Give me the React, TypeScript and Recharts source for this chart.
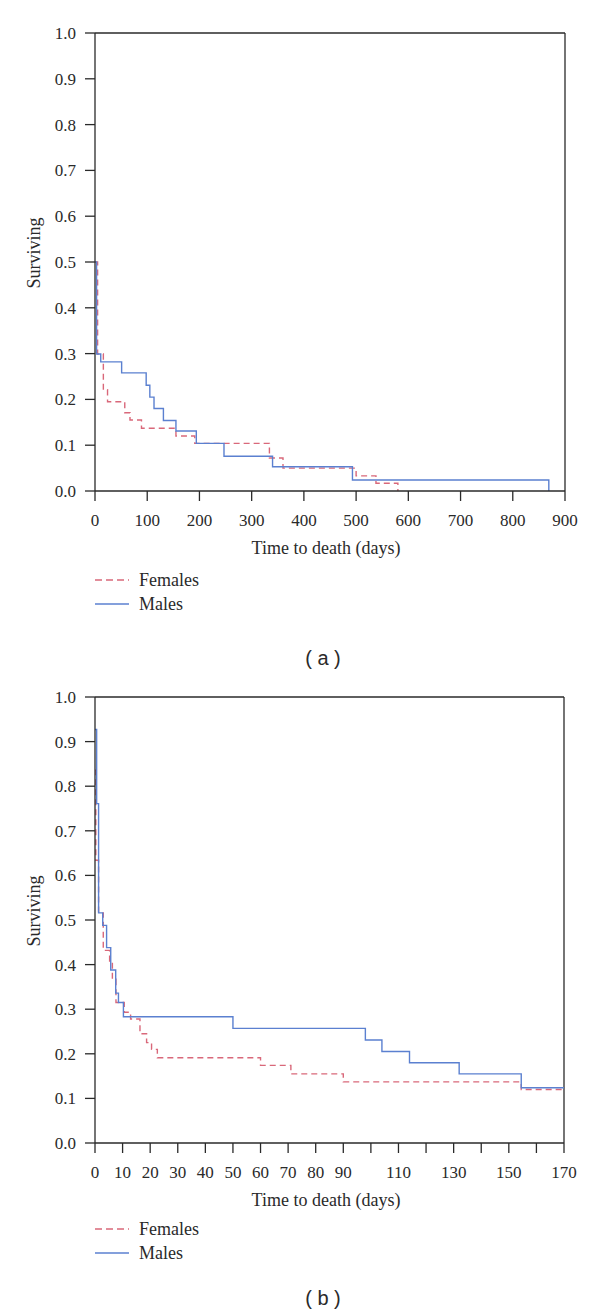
import React from "react";
import { LineChart, Line, XAxis, YAxis, ReferenceLine } from "recharts";

// (a) whole follow-up, days
const aTicks = [0, 100, 200, 300, 400, 500, 600, 700, 800, 900];
const aFemaleDays = [0, 5, 16, 24, 57, 67, 89, 155, 191, 334, 360, 500, 538, 580];
const aFemaleSurv = [0.5, 0.299, 0.221, 0.195, 0.171, 0.155, 0.137, 0.12, 0.104, 0.072, 0.05, 0.033, 0.017, 0];
const aMaleDays = [0, 3, 11, 51, 98, 105, 113, 131, 155, 194, 247, 340, 493, 869];
const aMaleSurv = [0.5, 0.299, 0.282, 0.258, 0.231, 0.205, 0.18, 0.154, 0.131, 0.104, 0.076, 0.053, 0.024, 0];

// (b) first 170 days
const bTicks = [0, 10, 20, 30, 40, 50, 60, 70, 80, 90, 100, 110, 120, 130, 140, 150, 160, 170];
const bHiddenLabels = [100, 120, 140, 160];
const bFemaleDays = [0, 0.3, 1.3, 3, 5.3, 6.3, 7.6, 10.6, 12.9, 16.3, 18.7, 20.5, 22.6, 60, 71, 90, 154.5, 170];
const bFemaleSurv = [0.836, 0.634, 0.516, 0.432, 0.408, 0.367, 0.315, 0.293, 0.278, 0.245, 0.225, 0.21, 0.191, 0.174, 0.155, 0.137, 0.12, 0.12];
const bMaleDays = [0, 0.6, 1.3, 2.8, 4.2, 5.7, 7.5, 8.5, 10.3, 50, 98, 104, 114, 132, 154.5, 170];
const bMaleSurv = [0.927, 0.761, 0.516, 0.488, 0.438, 0.388, 0.336, 0.315, 0.283, 0.257, 0.231, 0.205, 0.18, 0.155, 0.124, 0.124];

const yTicks = [0, 0.1, 0.2, 0.3, 0.4, 0.5, 0.6, 0.7, 0.8, 0.9, 1.0];

const FEMALE = "#d9687a";
const MALE = "#5b80d0";
const INK = "#2a2a2a";
const SERIF = "'Liberation Serif', 'DejaVu Serif', serif";

const toRows = (days: number[], surv: number[]) => days.map((t, i) => ({ t, s: surv[i] }));

const tickStyle = { fontSize: 17, fill: INK, fontFamily: SERIF };

type PanelProps = {
  top: number;
  height: number;
  xMax: number;
  xTicks: number[];
  hidden: number[];
  rightMargin: number;
  females: { t: number; s: number }[];
  males: { t: number; s: number }[];
};

const Panel = ({ top, height, xMax, xTicks, hidden, rightMargin, females, males }: PanelProps) => (
  <div style={{ position: "absolute", left: 0, top, fontFamily: SERIF }}>
    <LineChart width={600} height={height} margin={{ top: 33, right: rightMargin, bottom: 0, left: 0 }}>
      <XAxis
        dataKey="t"
        type="number"
        domain={[0, xMax]}
        ticks={xTicks}
        interval={0}
        height={50}
        tickSize={10}
        tickMargin={13}
        stroke={INK}
        strokeWidth={1.3}
        tick={tickStyle}
        tickFormatter={(v: number) => (hidden.includes(v) ? "" : String(v))}
        allowDataOverflow
      />
      <YAxis
        type="number"
        domain={[0, 1]}
        ticks={yTicks}
        interval={0}
        width={95}
        tickSize={10}
        tickMargin={9}
        stroke={INK}
        strokeWidth={1.3}
        tick={tickStyle}
        tickFormatter={(v: number) => v.toFixed(1)}
      />
      <ReferenceLine y={1} stroke={INK} strokeWidth={1.3} />
      <ReferenceLine x={xMax} stroke={INK} strokeWidth={1.3} />
      <Line data={females} dataKey="s" type="stepAfter" stroke={FEMALE} strokeWidth={1.4} strokeDasharray="6 4" dot={false} isAnimationActive={false} />
      <Line data={males} dataKey="s" type="stepAfter" stroke={MALE} strokeWidth={1.4} dot={false} isAnimationActive={false} />
    </LineChart>
  </div>
);

const Text = ({ x, y, children, size = 18, family = SERIF, rotate = 0 }: any) => (
  <div
    style={{
      position: "absolute",
      left: x,
      top: y,
      transform: `translate(-50%, -50%) rotate(${rotate}deg)`,
      fontFamily: family,
      fontSize: size,
      lineHeight: 1,
      whiteSpace: "pre",
      color: INK,
    }}
  >
    {children}
  </div>
);

const LegendRows = ({ y }: { y: number }) => (
  <>
    {[
      { name: "Females", color: FEMALE, dash: "7 4", dy: 0 },
      { name: "Males", color: MALE, dash: undefined, dy: 24 },
    ].map((r) => (
      <div key={r.name} style={{ position: "absolute", left: 95, top: y + r.dy - 10, height: 20, display: "flex", alignItems: "center" }}>
        <svg width={34} height={20}>
          <line x1={0} x2={34} y1={10} y2={10} stroke={r.color} strokeWidth={1.4} strokeDasharray={r.dash} />
        </svg>
        <span style={{ marginLeft: 10, fontFamily: SERIF, fontSize: 18, color: INK, lineHeight: 1 }}>{r.name}</span>
      </div>
    ))}
  </>
);

export default function App() {
  return (
    <div style={{ position: "absolute", left: 0, top: 0, width: 600, height: 1315, background: "#fff" }}>
      <Panel
        top={0}
        height={541}
        xMax={900}
        xTicks={aTicks}
        hidden={[]}
        rightMargin={35}
        females={toRows(aFemaleDays, aFemaleSurv)}
        males={toRows(aMaleDays, aMaleSurv)}
      />
      <Text x={34} y={253} rotate={-90}>Surviving</Text>
      <Text x={326} y={548}>Time to death (days)</Text>
      <LegendRows y={580} />
      <Text x={323} y={658} size={20} family="'Liberation Sans', Arial, sans-serif">( a )</Text>

      <Panel
        top={664}
        height={529}
        xMax={170}
        xTicks={bTicks}
        hidden={bHiddenLabels}
        rightMargin={36}
        females={toRows(bFemaleDays, bFemaleSurv)}
        males={toRows(bMaleDays, bMaleSurv)}
      />
      <Text x={34} y={911} rotate={-90}>Surviving</Text>
      <Text x={326} y={1200}>Time to death (days)</Text>
      <LegendRows y={1229} />
      <Text x={323} y={1298} size={20} family="'Liberation Sans', Arial, sans-serif">( b )</Text>
    </div>
  );
}
